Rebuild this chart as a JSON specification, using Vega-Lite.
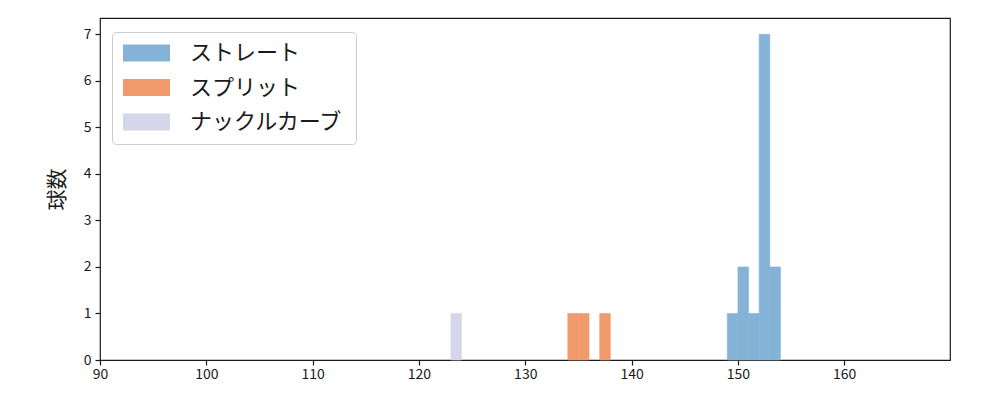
{
  "$schema": "https://vega.github.io/schema/vega-lite/v6.json",
  "width": 850,
  "height": 342,
  "autosize": {"type": "none"},
  "padding": {"left": 100, "top": 18, "right": 50, "bottom": 40},
  "background": "white",
  "config": {
    "view": {"stroke": "#1a1a1a", "strokeWidth": 1.2},
    "font": "Noto Sans CJK JP"
  },
  "data": {
    "values": [
      {"球種": "ストレート", "start": 149, "end": 150, "count": 1},
      {"球種": "ストレート", "start": 150, "end": 151, "count": 2},
      {"球種": "ストレート", "start": 151, "end": 152, "count": 1},
      {"球種": "ストレート", "start": 152, "end": 153, "count": 7},
      {"球種": "ストレート", "start": 153, "end": 154, "count": 2},
      {"球種": "スプリット", "start": 134, "end": 135, "count": 1},
      {"球種": "スプリット", "start": 135, "end": 136, "count": 1},
      {"球種": "スプリット", "start": 137, "end": 138, "count": 1},
      {"球種": "ナックルカーブ", "start": 123, "end": 124, "count": 1}
    ]
  },
  "mark": {"type": "rect", "opacity": 1, "strokeWidth": 0.6},
  "encoding": {
    "x": {
      "field": "start", "type": "quantitative",
      "scale": {"domain": [90, 169.95], "nice": false, "zero": false},
      "axis": {
        "values": [90, 100, 110, 120, 130, 140, 150, 160],
        "grid": false, "title": null, "labelFlush": false,
        "labelFont": "Noto Sans CJK JP", "labelFontSize": 14, "labelColor": "#1a1a1a",
        "domain": false, "ticks": true, "tickColor": "#1a1a1a", "tickSize": 5, "tickWidth": 1.2, "labelPadding": 2
      }
    },
    "x2": {"field": "end"},
    "y": {
      "field": "count", "type": "quantitative",
      "scale": {"domain": [0, 7.35], "nice": false},
      "axis": {
        "values": [0, 1, 2, 3, 4, 5, 6, 7],
        "grid": false, "title": "球数", "labelFlush": false,
        "titleFont": "Noto Sans CJK JP", "titleFontSize": 21, "titleFontWeight": "normal",
        "titleColor": "#1a1a1a", "titlePadding": 16,
        "labelFont": "Noto Sans CJK JP", "labelFontSize": 14, "labelColor": "#1a1a1a",
        "domain": false, "ticks": true, "tickColor": "#1a1a1a", "tickSize": 5, "tickWidth": 1.2, "labelPadding": 4
      }
    },
    "y2": {"datum": 0},
    "color": {
      "field": "球種", "type": "nominal",
      "scale": {
        "domain": ["ストレート", "スプリット", "ナックルカーブ"],
        "range": ["#85b3d8", "#f19b6d", "#d6d6eb"]
      },
      "legend": {
        "title": null,
        "orient": "none", "legendX": 12, "legendY": 14,
        "symbolType": "M-1,-0.36L1,-0.36L1,0.36L-1,0.36Z",
        "symbolSize": 2209, "symbolStrokeWidth": 0, "symbolOpacity": 1,
        "clipHeight": 20, "rowPadding": 12.5,
        "labelFont": "Noto Sans CJK JP", "labelFontSize": 22, "labelColor": "#1a1a1a",
        "labelOffset": 20,
        "padding": 11,
        "fillColor": "white", "strokeColor": "#cccccc", "cornerRadius": 4
      }
    },
    "stroke": {
      "field": "球種", "type": "nominal",
      "scale": {
        "domain": ["ストレート", "スプリット", "ナックルカーブ"],
        "range": ["#85b3d8", "#f19b6d", "#d6d6eb"]
      },
      "legend": null
    }
  }
}
